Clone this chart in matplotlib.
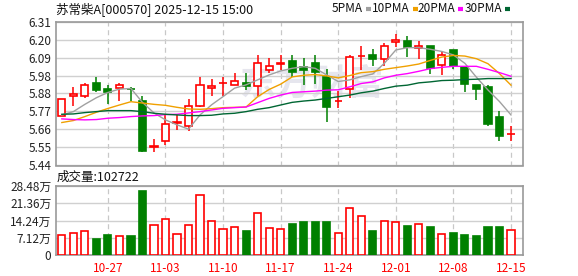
import matplotlib
matplotlib.use("Agg")
import matplotlib.pyplot as plt
from matplotlib.lines import Line2D
import numpy as np

plt.rcParams['font.family'] = ['Noto Sans CJK SC', 'DejaVu Sans']

# ---- data ----
opens = [5.742, 5.858, 5.862, 5.942, 5.902, 5.906, 5.904, 5.830, 5.552, 5.586,
         5.700, 5.680, 5.802, 5.906, 5.938, 5.930, 5.942, 5.918, 6.020, 6.056,
         6.074, 6.036, 6.062, 5.974, 5.830, 5.902, 6.100, 6.106, 6.082, 6.188,
         6.196, 6.148, 6.166, 6.050, 6.136, 6.036, 5.926, 5.914, 5.734, 5.630]
closes = [5.840, 5.872, 5.930, 5.898, 5.886, 5.930, 5.900, 5.530, 5.555, 5.692,
          5.702, 5.798, 5.930, 5.924, 5.942, 5.954, 5.920, 6.062, 6.044, 6.060,
          6.006, 6.020, 6.006, 5.796, 5.832, 6.094, 6.104, 6.082, 6.164, 6.202,
          6.156, 6.164, 6.030, 6.110, 6.042, 5.934, 5.904, 5.694, 5.616, 5.632]
highs = [5.845, 5.916, 5.940, 5.974, 5.930, 5.942, 5.915, 5.860, 5.602, 5.746,
         5.746, 5.840, 5.976, 5.962, 5.976, 6.002, 6.002, 6.106, 6.092, 6.106,
         6.106, 6.092, 6.106, 6.026, 5.890, 6.106, 6.166, 6.142, 6.182, 6.236,
         6.226, 6.196, 6.166, 6.130, 6.136, 6.036, 5.926, 5.926, 5.770, 5.682]
lows = [5.738, 5.802, 5.846, 5.886, 5.814, 5.832, 5.830, 5.522, 5.522, 5.565,
        5.652, 5.646, 5.796, 5.860, 5.860, 5.926, 5.896, 5.860, 6.002, 6.016,
        5.976, 5.926, 5.936, 5.706, 5.786, 5.846, 6.016, 6.042, 6.040, 6.156,
        6.096, 6.086, 5.994, 5.986, 6.026, 5.886, 5.834, 5.682, 5.586, 5.586]

ma5 = [5.746, 5.766, 5.810, 5.850, 5.882, 5.902, 5.906, 5.822, 5.758, 5.716,
       5.686, 5.660, 5.746, 5.807, 5.857, 5.908, 5.928, 5.958, 5.988, 6.012,
       6.028, 6.038, 6.028, 5.988, 5.948, 5.958, 5.978, 5.994, 6.058, 6.139,
       6.153, 6.153, 6.143, 6.130, 6.109, 6.058, 5.974, 5.897, 5.827, 5.746]
ma10 = [5.700, 5.712, 5.736, 5.762, 5.785, 5.806, 5.826, 5.818, 5.810, 5.804,
        5.792, 5.782, 5.780, 5.784, 5.790, 5.792, 5.794, 5.856, 5.900, 5.932,
        5.976, 5.986, 5.990, 5.982, 5.970, 5.984, 6.002, 6.008, 6.022, 6.032,
        6.042, 6.054, 6.076, 6.096, 6.106, 6.102, 6.086, 6.056, 5.996, 5.926]
ma20 = [5.722, 5.718, 5.716, 5.718, 5.726, 5.730, 5.736, 5.740, 5.742, 5.748,
        5.750, 5.758, 5.766, 5.776, 5.786, 5.790, 5.794, 5.820, 5.846, 5.866,
        5.882, 5.886, 5.890, 5.896, 5.898, 5.916, 5.936, 5.946, 5.970, 5.986,
        5.996, 6.010, 6.026, 6.034, 6.040, 6.040, 6.040, 6.022, 6.002, 5.980]
ma30 = [5.750, 5.752, 5.760, 5.766, 5.772, 5.772, 5.772, 5.766, 5.756, 5.750,
        5.746, 5.742, 5.742, 5.744, 5.752, 5.756, 5.766, 5.780, 5.790, 5.806,
        5.822, 5.830, 5.836, 5.846, 5.856, 5.866, 5.880, 5.890, 5.906, 5.920,
        5.926, 5.940, 5.946, 5.954, 5.956, 5.960, 5.962, 5.966, 5.966, 5.966]

# volume in 万
volumes = [8.26, 8.95, 9.90, 6.60, 8.26, 7.70, 7.84, 26.4, 12.26, 14.73,
           8.53, 12.26, 24.6, 14.0, 10.6, 11.4, 10.0, 17.2, 11.1, 10.6,
           12.8, 13.5, 13.75, 13.75, 8.95, 19.3, 15.97, 9.9, 13.9, 13.5,
           12.0, 12.7, 11.56, 8.53, 9.08, 8.26, 7.84, 11.56, 11.56, 10.27]

price_ticks = [5.44, 5.55, 5.66, 5.77, 5.88, 5.98, 6.09, 6.20, 6.31]
vol_ticks = [0, 7.12, 14.24, 21.36, 28.48]
vol_labels = ['0', '7.12万', '14.24万', '21.36万', '28.48万']
date_idx = [4, 9, 14, 19, 24, 29, 34, 39]
date_labels = ['10-27', '11-03', '11-10', '11-17', '11-24', '12-01', '12-08', '12-15']

title = '苏常柴A[000570] 2025-12-15 15:00'
vol_title = '成交量:102722'
ma_names = ['5PMA', '10PMA', '20PMA', '30PMA']
ma_colors = ['#a0a0a0', '#f0a000', '#ff00ff', '#006633']

RED = '#ff0000'
GREEN = '#008000'
W, H = 578, 276


def px_axes(fig, left, top, right, bottom):
    return fig.add_axes([left / W, 1 - bottom / H, (right - left) / W, (bottom - top) / H])


fig = plt.figure(figsize=(W / 100, H / 100), dpi=100)
fig.patch.set_facecolor('white')

ax = px_axes(fig, 55.5, 21.7, 522.5, 165.5)
axv = px_axes(fig, 55.5, 186, 522.5, 255)

x = np.arange(len(closes))
o = np.array(opens)
c = np.array(closes)
up = c >= o
cols = np.where(up, RED, GREEN)

# watermark
ax.text(0.55, 0.57, '东方财富', transform=ax.transAxes, fontsize=26, fontweight='bold',
        color='#e6e6ee', ha='center', va='center', zorder=0)

# candles
ax.vlines(x, lows, highs, colors=cols, linewidth=1.1, zorder=3)
body_bot = np.minimum(o, c)
body_h = np.maximum(np.abs(c - o), 0.001)
ax.bar(x, body_h, bottom=body_bot, width=0.62,
       color=np.where(up, 'white', GREEN), edgecolor=cols, linewidth=1.2, zorder=4)

# moving averages
for vals, col in zip([ma5, ma10, ma20, ma30], ma_colors):
    ax.plot(x, vals, color=col, linewidth=1.0, zorder=5)

ax.set_ylim(price_ticks[0], price_ticks[-1])
ax.set_yticks(price_ticks)
ax.set_yticklabels([f'{t:.2f}' for t in price_ticks])

# volume
axv.bar(x, volumes, width=0.62, color=np.where(up, 'white', GREEN),
        edgecolor=cols, linewidth=1.2, zorder=4)
axv.set_ylim(0, vol_ticks[-1])
axv.set_yticks(vol_ticks)
axv.set_yticklabels(vol_labels)

for a in (ax, axv):
    a.set_xlim(-0.55, 40.0)
    a.set_xticks(date_idx)
    a.grid(axis='y', color='#d0d0d0', linewidth=1.0, zorder=1)
    a.grid(axis='x', color='#c8c8c8', linewidth=0.9, linestyle=(0, (4, 3)), zorder=1)
    a.set_axisbelow(True)
    a.tick_params(length=0, labelsize=8.5, labelcolor='#222222', pad=3)
    for s in a.spines.values():
        s.set_color('#999999')
        s.set_linewidth(1.2)

ax.set_xticklabels([])
axv.set_xticklabels(date_labels, color=RED, fontsize=8.5)
axv.tick_params(axis='x', pad=5)

# titles
fig.text(56 / W, 1 - 9 / H, title, fontsize=9, va='center', ha='left', color='#111111')
fig.text(57 / W, 1 - 177 / H, vol_title, fontsize=9, va='center', ha='left', color='#111111')

# legend: text ends just before each colour mark
mx = [366, 413, 458, 505]
for name, col, m0 in zip(ma_names, ma_colors, mx):
    fig.text((m0 - 3) / W, 1 - 9 / H, name, fontsize=8.5, va='center', ha='right',
             color='#111111')
    fig.add_artist(Line2D([m0 / W, (m0 + 5) / W], [1 - 9 / H, 1 - 9 / H],
                          color=col, linewidth=3, solid_capstyle='butt'))

fig.savefig('out.png', dpi=100, facecolor='white')
